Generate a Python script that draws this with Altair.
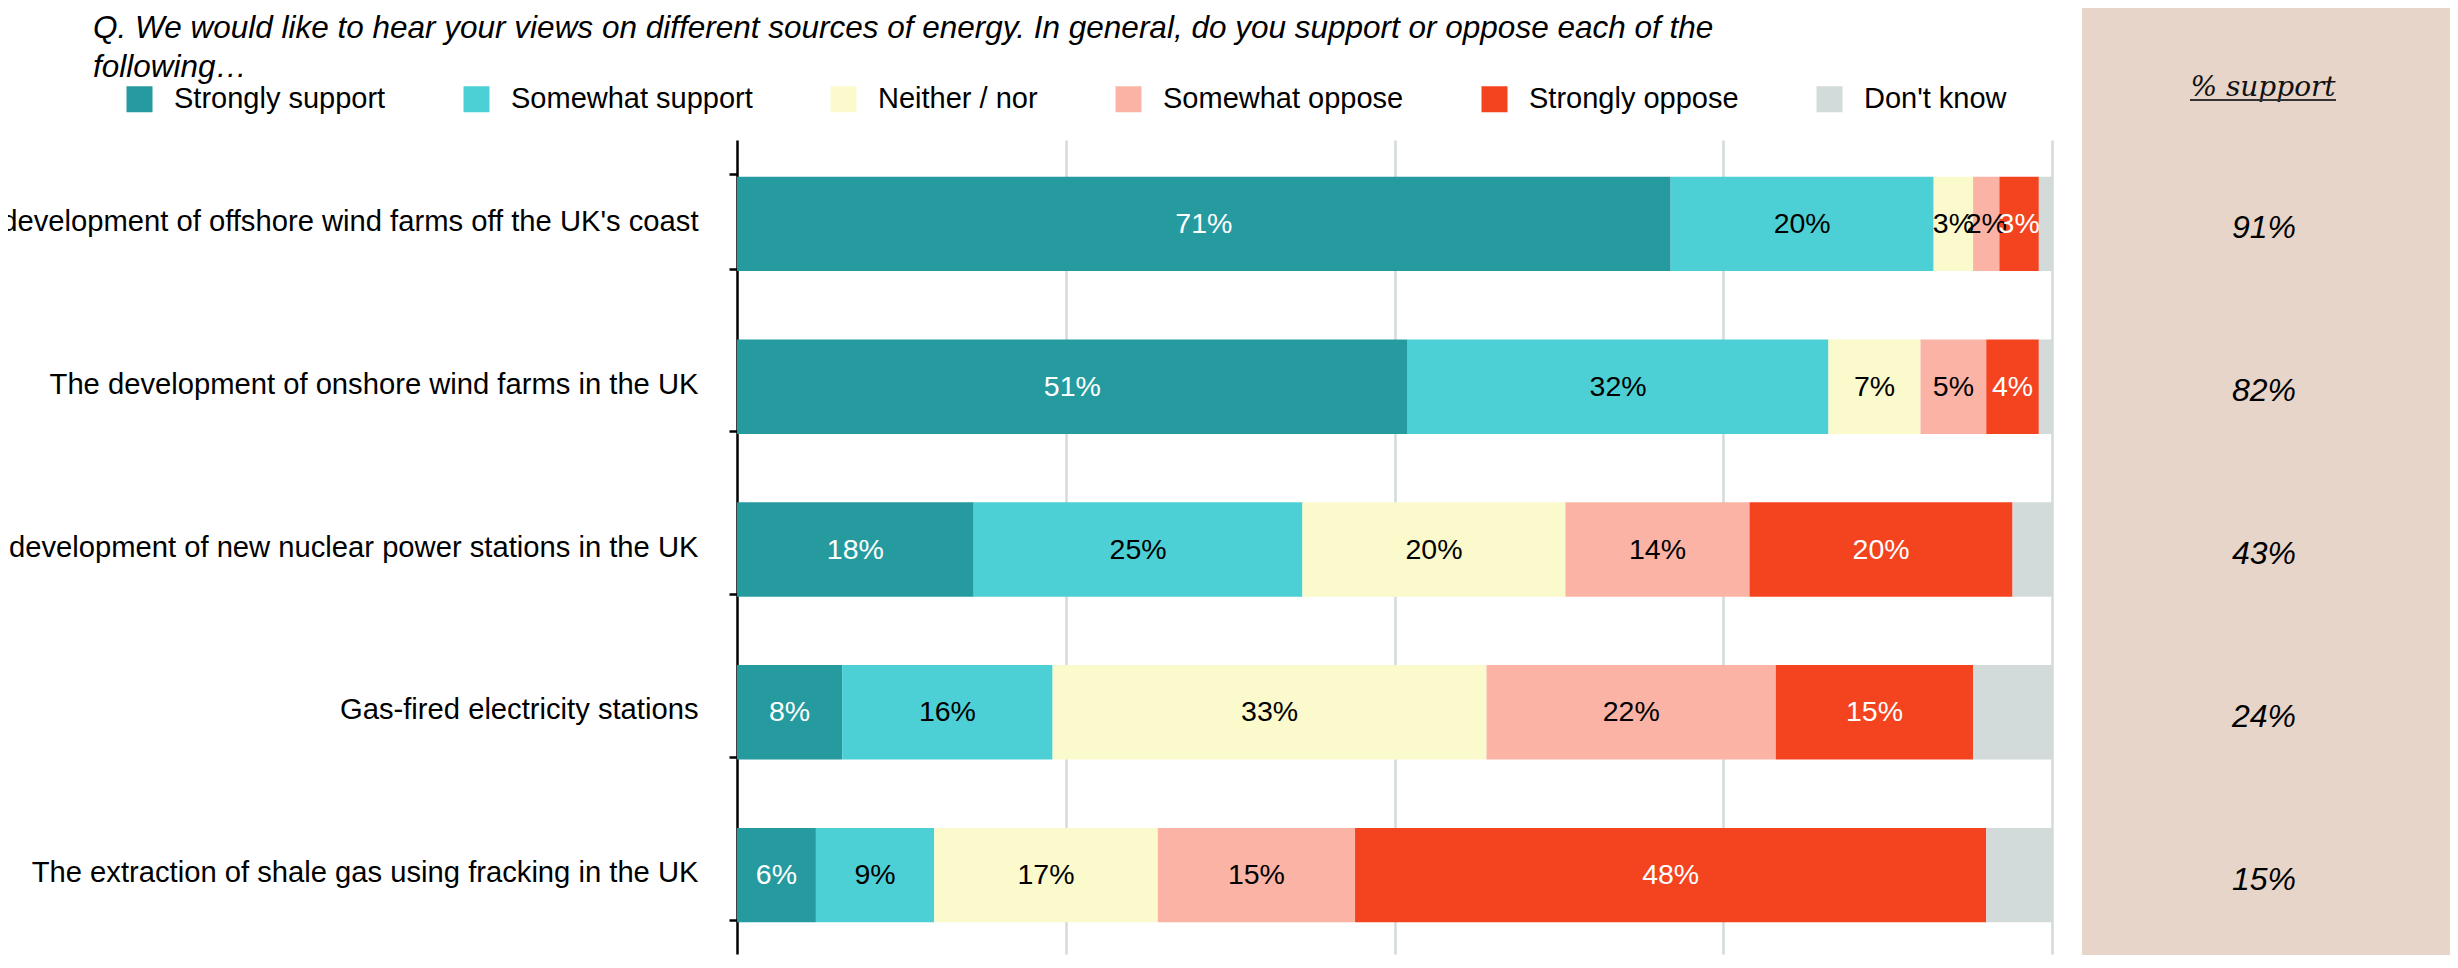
import altair as alt
import pandas as pd

items = [
    "The development of offshore wind farms off the UK's coast",
    "The development of onshore wind farms in the UK",
    "The development of new nuclear power stations in the UK",
    "Gas-fired electricity stations",
    "The extraction of shale gas using fracking in the UK",
]
responses = ["Strongly support", "Somewhat support", "Neither / nor",
             "Somewhat oppose", "Strongly oppose", "Don't know"]
colors = ["#259a9f", "#4cd0d6", "#fbfacc", "#fab3a5", "#f4431f", "#d3dada"]

strongly_support = [71, 51, 18, 8, 6]
somewhat_support = [20, 32, 25, 16, 9]
neither_nor = [3, 7, 20, 33, 17]
somewhat_oppose = [2, 5, 14, 22, 15]
strongly_oppose = [3, 4, 20, 15, 48]
dont_know = [1, 1, 3, 6, 5]
pct_support = [91, 82, 43, 24, 15]

title_lines = [
    "Q. We would like to hear your views on different sources of energy. In general, do you support or oppose each of the",
    "following\u2026",
]
support_header = "% support"
grid_values = [25, 50, 75, 100]

series = [strongly_support, somewhat_support, neither_nor,
          somewhat_oppose, strongly_oppose, dont_know]
rows = []
for i, item in enumerate(items):
    for r, (resp, vals) in enumerate(zip(responses, series)):
        rows.append({"item": item, "response": resp, "rank": r, "value": vals[i]})
df = pd.DataFrame(rows)
support_df = pd.DataFrame({"item": items, "support": pct_support})

FONT = "Liberation Sans, Arial, sans-serif"
PAD_L, PAD_T, PAD_B = 729, 132, 1
BAR_RANGE = 1315
W = 2442 - PAD_L
H = 814
PANEL_X = 1345
PANEL_C = 1527

xscale = alt.Scale(domain=[0, 100], range=[0, BAR_RANGE])
x_axis = alt.Axis(values=grid_values, grid=True, gridColor="#d3dada", gridWidth=2.5,
                  labels=False, ticks=False, domain=False, title=None)
y_axis = alt.Axis(title=None, labelFontSize=29.2, labelFont=FONT, labelColor="black",
                  labelLimit=2000, labelPadding=31, tickSize=8, tickColor="black",
                  tickWidth=2.5, domainColor="black", domainWidth=2.5,
                  tickBand="extent", grid=False)
yenc = alt.Y("item:N", scale=alt.Scale(domain=items, paddingInner=0.42, paddingOuter=0.21),
             axis=y_axis)

def stacked(chart):
    return chart.transform_stack(
        stack="value", groupby=["item"], sort=[alt.SortField("rank")], as_=["x0", "x1"]
    )

panel = alt.Chart(pd.DataFrame({"k": [0]})).mark_rect(color="#e6d5c8").encode(
    x=alt.value(PANEL_X), x2=alt.value(W), y=alt.value(-PAD_T), y2=alt.value(H + PAD_B)
)

bars = stacked(alt.Chart(df)).mark_bar(yOffset=2.5).encode(
    x=alt.X("x0:Q", scale=xscale, axis=x_axis),
    x2="x1:Q",
    y=yenc,
    color=alt.Color(
        "response:N",
        scale=alt.Scale(domain=responses, range=colors),
        legend=alt.Legend(
            orient="none", legendX=-612, legendY=-55.5, direction="horizontal",
            title=None, symbolType="square", symbolSize=676, symbolStrokeWidth=0,
            symbolOpacity=1, labelFontSize=29, labelFont=FONT, labelColor="black",
            labelOffset=20, columnPadding=76, padding=0, labelLimit=1000,
        ),
    ),
    order=alt.Order("rank:Q"),
)

labels = stacked(alt.Chart(df)).transform_filter(
    "datum.response != \"Don't know\""
).transform_calculate(
    mid="(datum.x0 + datum.x1) / 2", label="datum.value + '%'"
).mark_text(fontSize=28.5, font=FONT, baseline="middle", align="center", yOffset=2.5).encode(
    x=alt.X("mid:Q", scale=xscale, axis=x_axis),
    y=yenc,
    text="label:N",
    color=alt.condition(
        "datum.response == 'Strongly support' || datum.response == 'Strongly oppose'",
        alt.value("white"), alt.value("black"),
    ),
)

support_text = alt.Chart(support_df).transform_calculate(
    label="datum.support + '%'"
).mark_text(fontSize=32, font=FONT, fontStyle="italic", color="black",
            align="center", baseline="middle", yOffset=7).encode(
    x=alt.value(PANEL_C), y=yenc, text="label:N"
)

header = alt.Chart(pd.DataFrame({"t": [support_header]})).mark_text(
    font="DejaVu Serif, Liberation Serif, serif", fontSize=28, fontStyle="italic",
    color="#111111", align="center", baseline="alphabetic"
).encode(x=alt.value(PANEL_C - 1), y=alt.value(-44.5), text="t:N")

underline = alt.Chart(pd.DataFrame({"k": [0]})).mark_rule(color="#333333", strokeWidth=2).encode(
    x=alt.value(1453), x2=alt.value(1599), y=alt.value(-40)
)

title1 = alt.Chart(pd.DataFrame({"t": [title_lines[0]]})).mark_text(
    font=FONT, fontSize=31.5, fontStyle="italic", color="black", align="left",
    baseline="alphabetic"
).encode(x=alt.value(-644), y=alt.value(-102), text="t:N")

title2 = alt.Chart(pd.DataFrame({"t": [title_lines[1]]})).mark_text(
    font=FONT, fontSize=31.5, fontStyle="italic", color="black", align="left",
    baseline="alphabetic"
).encode(x=alt.value(-644), y=alt.value(-63), text="t:N")

chart = alt.layer(panel, bars, labels, support_text, header, underline, title1, title2).properties(
    width=W, height=H,
    padding={"left": PAD_L, "top": PAD_T, "right": 0, "bottom": PAD_B},
    autosize=alt.AutoSizeParams(type="none"),
).configure_view(strokeWidth=0)

chart.save("out.html", embed_options={"renderer": "svg", "actions": False})
